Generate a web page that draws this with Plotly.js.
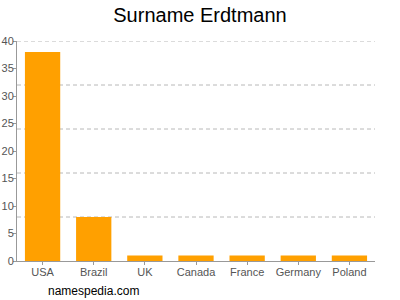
<!DOCTYPE html>
<html><head><meta charset="utf-8">
<script src="https://cdn.plot.ly/plotly-3.0.1.min.js"></script>
<style>html,body{margin:0;padding:0;background:#fff}#c{width:400px;height:300px}</style>
</head><body><div id="c"></div>
<script>
var countries = ["USA","Brazil","UK","Canada","France","Germany","Poland"];
var counts = [38,8,1,1,1,1,1];
var yTicks = [0,5,10,15,20,25,30,35,40];
var gridVals = [8,16,24,32,40];

var data = [{type:'bar', x:countries, y:counts, marker:{color:'#ffa000'}, hoverinfo:'none'}];
var shapes = gridVals.map(function(v){
  return {type:'line', xref:'paper', yref:'y', x0:0, x1:1, y0:v, y1:v, layer:'below',
    line:{color:'#b8b8b8', width:1, dash:'4px,3px'}};
});
var layout = {
  width:400, height:300,
  margin:{l:17,r:25,t:41,b:39},
  paper_bgcolor:'#fff', plot_bgcolor:'#fff',
  showlegend:false,
  bargap:0.31,
  shapes:shapes,
  title:{text:'Surname Erdtmann', font:{family:'Liberation Sans, Arial, sans-serif', size:20, color:'#000'}, x:0.5, xanchor:'center', y:0.95, yanchor:'middle'},
  font:{family:'Liberation Sans, Arial, sans-serif'},
  xaxis:{showline:true, linecolor:'#999', linewidth:1, ticks:'outside', ticklen:3, tickcolor:'#999',
    tickfont:{size:11,color:'#555'}, showgrid:false, fixedrange:true, ticklabelstandoff:-2},
  yaxis:{range:[0,40], tickvals:yTicks, showline:true, linecolor:'#999', linewidth:1, ticks:'outside', ticklen:3, tickcolor:'#999',
    tickfont:{size:11,color:'#555'}, showgrid:false, zeroline:false, fixedrange:true, ticklabelstandoff:-3},
  annotations:[{text:'namespedia.com', xref:'paper', yref:'paper', x:0.215, y:-0.137, xanchor:'center', yanchor:'middle', showarrow:false, font:{size:12,color:'#000'}}]
};
Plotly.newPlot('c', data, layout, {staticPlot:true});
</script></body></html>
